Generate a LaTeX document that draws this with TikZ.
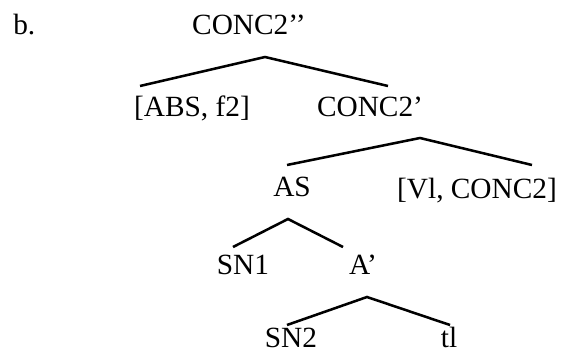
\documentclass[tikz,border=0pt]{standalone}
\usepackage{fontspec}
\setmainfont{Liberation Serif}
\usepackage{tikz}

\tikzset{
  lbl/.style={anchor=base,inner sep=0pt,font=\fontsize{22}{26}\selectfont},
  branch/.style={line width=1.9pt,line join=miter}
}

\begin{document}
\begin{tikzpicture}[x=0.75pt,y=0.75pt,yscale=-1,xscale=1]
\useasboundingbox (0,0) rectangle (567,352);

% Text Node
\node [lbl,anchor=base west] (lab) at (13,35) {b.};
% Text Node
\node [lbl] (conc2pp) at (249,35) {CONC2’’};
% Text Node
\node [lbl] (absf) at (192,117) {[ABS, f2]};
% Text Node
\node [lbl] (conc2p) at (370,117) {CONC2’};
% Text Node
\node [lbl] (as) at (292,197) {AS};
% Text Node
\node [lbl] (vlconc) at (477,199) {[Vl, CONC2]};
% Text Node
\node [lbl] (snone) at (243,275) {SN1};
% Text Node
\node [lbl] (ap) at (363,275) {A’};
% Text Node
\node [lbl] (sntwo) at (291,347) {SN2};
% Text Node
\node [lbl] (tl) at (449,347) {tl};

%Branch points
\coordinate (conc2pp-dn) at (265,57);
\coordinate (absf-up) at (140,86);
\coordinate (conc2p-up) at (388,86);
\coordinate (conc2p-dn) at (420,138);
\coordinate (as-up) at (287,165);
\coordinate (vlconc-up) at (532,165);
\coordinate (as-dn) at (288,219);
\coordinate (snone-up) at (233,247);
\coordinate (ap-up) at (343,247);
\coordinate (ap-dn) at (367,297);
\coordinate (sntwo-up) at (287,325);
\coordinate (tl-up) at (450,325);

%Straight Lines
\draw [branch] (absf-up) -- (conc2pp-dn) -- (conc2p-up);
%Straight Lines
\draw [branch] (as-up) -- (conc2p-dn) -- (vlconc-up);
%Straight Lines
\draw [branch] (snone-up) -- (as-dn) -- (ap-up);
%Straight Lines
\draw [branch] (sntwo-up) -- (ap-dn) -- (tl-up);

\end{tikzpicture}
\end{document}
